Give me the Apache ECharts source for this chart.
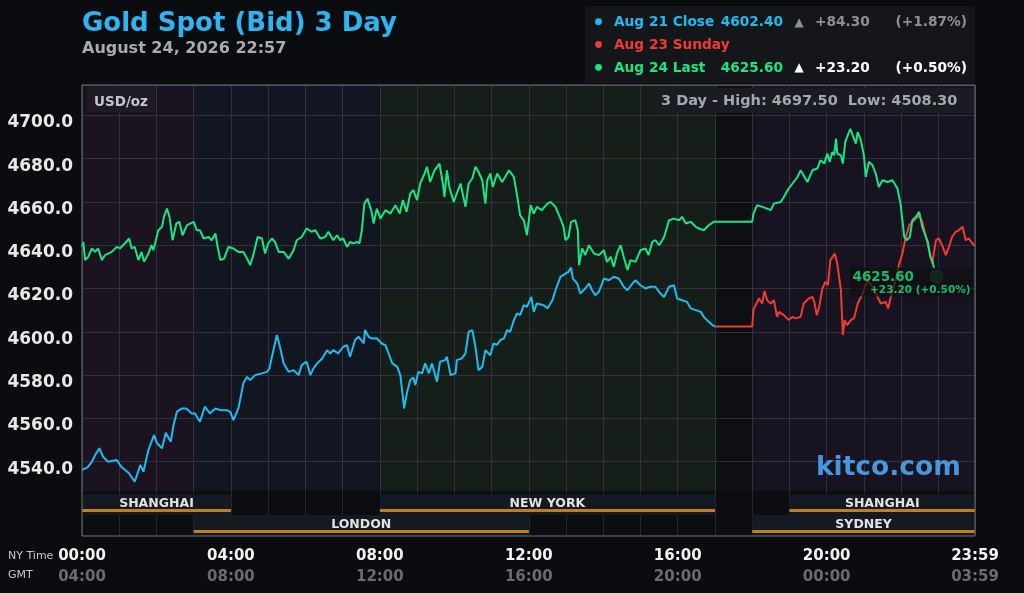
<!DOCTYPE html>
<html><head><meta charset="utf-8">
<script src="https://cdn.jsdelivr.net/npm/echarts@6/dist/echarts.min.js"></script>
<style>html,body{margin:0;padding:0;background:#0b0c0f;}#c{width:1024px;height:593px;}</style>
</head><body><div id="c"></div>
<script>
const FONT = '"DejaVu Sans", Verdana, sans-serif';

// ---- data: [minute of NY day, price] ----
const aug21Close = [[0,4536.2],[9,4537.4],[16,4540],[21,4543],[28,4546.2],[34,4542.3],[42,4540],[56,4540.8],[64,4537.4],[75,4534.9],[85,4530.8],[94,4538.5],[99,4535.4],[107,4545.4],[116,4552.3],[121,4548.5],[129,4546.2],[135,4553.4],[143,4549.2],[147,4556.1],[153,4563.1],[161,4564.6],[168,4564.6],[177,4562.3],[182,4562.3],[190,4558.5],[198,4565.4],[206,4562.3],[215,4564.6],[223,4563.8],[233,4563.8],[239,4563],[244,4559.2],[252,4564.6],[260,4576.2],[266,4579.2],[271,4577.7],[279,4580],[290,4580.8],[298,4581.5],[302,4583],[306,4588.4],[314,4598.5],[319,4593.1],[325,4585.4],[333,4581.5],[341,4582.3],[349,4580],[354,4584.6],[362,4586.2],[368,4580],[373,4583.1],[379,4585.4],[387,4587.7],[395,4591.5],[400,4590],[405,4591.5],[413,4590],[421,4593.1],[427,4593.8],[432,4588.5],[440,4596.2],[446,4597.7],[454,4594.6],[456,4600.8],[462,4597.7],[467,4596.9],[475,4597],[483,4594.6],[489,4593.8],[494,4590],[500,4585.4],[508,4583.8],[513,4580],[517,4570],[519,4564.6],[524,4572.3],[529,4577.7],[534,4578.9],[537,4575.4],[542,4581.5],[548,4580.8],[553,4585.4],[559,4580.8],[564,4585.4],[572,4576.9],[577,4586.2],[585,4586.9],[588,4588.5],[594,4580],[602,4580.8],[604,4586.9],[612,4587.7],[618,4590],[623,4600],[629,4600.8],[634,4593.1],[639,4582.3],[645,4583.8],[650,4591.5],[658,4589.2],[663,4594.6],[669,4594],[674,4596.2],[680,4597],[685,4600.8],[690,4600],[696,4605.4],[701,4608.5],[706,4607.7],[712,4612.3],[717,4611.5],[724,4616.1],[728,4609.2],[733,4613.1],[744,4612.3],[750,4610.8],[758,4614.6],[763,4619.2],[771,4625.4],[779,4626.9],[784,4627.7],[788,4629.7],[791,4624.6],[798,4622.3],[803,4617.7],[811,4620],[817,4622.3],[822,4619.2],[827,4616.9],[833,4618.5],[841,4624.6],[849,4623.8],[857,4625.4],[865,4624.6],[873,4620.8],[879,4619.2],[887,4622.3],[892,4623.8],[900,4621.5],[908,4620],[916,4620.8],[924,4620.8],[932,4617.7],[938,4616.1],[946,4620.8],[954,4621.5],[959,4615.4],[967,4614.6],[975,4613.8],[981,4610.8],[989,4610],[997,4609.2],[1002,4606.9],[1010,4604.6],[1016,4603.1],[1020,4602.4]];

const aug23Sunday = [[1020,4602.4],[1080,4602.4],[1082,4610.3],[1091,4615.4],[1096,4613.1],[1100,4618.9],[1104,4614.6],[1110,4613.1],[1115,4614.6],[1120,4606.9],[1123,4609.2],[1131,4607.7],[1139,4605.4],[1145,4606.9],[1150,4606.2],[1158,4606.9],[1163,4613.1],[1171,4615.4],[1177,4616.1],[1180,4613.8],[1184,4607.7],[1188,4611.5],[1193,4620],[1198,4623.1],[1202,4621.5],[1206,4633.1],[1213,4636.2],[1217,4631.5],[1223,4619.2],[1226,4598.5],[1229,4605.4],[1233,4603.1],[1239,4605.4],[1244,4606.2],[1250,4613.1],[1258,4617.7],[1266,4623.8],[1274,4620.8],[1282,4616.1],[1287,4613.1],[1295,4613.8],[1299,4610.8],[1304,4616.9],[1311,4623.8],[1317,4631.5],[1322,4636.2],[1327,4643.1],[1333,4649.2],[1341,4651.5],[1349,4653.8],[1354,4650.8],[1360,4643.8],[1365,4637.7],[1370,4631.5],[1376,4642.3],[1381,4643.1],[1387,4639.2],[1392,4635.4],[1397,4639.2],[1402,4643.8],[1408,4646.2],[1413,4646.9],[1419,4648.5],[1424,4642.3],[1429,4643.1],[1437,4640],[1439,4640]];

const aug24Last = [[0,4639.2],[2,4641.5],[5,4633.1],[10,4634.6],[16,4638.5],[21,4636.9],[26,4638.5],[32,4633.1],[37,4635.4],[48,4636.9],[56,4639.2],[61,4638.5],[69,4640.8],[76,4643.1],[80,4638.5],[85,4639.2],[91,4633.1],[96,4636.9],[100,4632.3],[107,4636.2],[112,4640],[115,4637.7],[123,4646.9],[129,4648.5],[132,4653.1],[137,4656.9],[141,4653.1],[146,4642.3],[152,4650],[157,4650.8],[162,4644.6],[169,4649.2],[174,4650],[180,4650.8],[185,4646.9],[190,4646.9],[196,4643.1],[204,4643.8],[209,4642.3],[215,4645.4],[218,4640],[223,4633.1],[229,4633.8],[236,4639.2],[244,4638.5],[252,4636.9],[260,4636.9],[266,4633.8],[271,4630.8],[276,4635.4],[283,4643.8],[290,4643.1],[295,4636.2],[300,4640.8],[306,4643.1],[311,4641.5],[317,4636.9],[325,4636.9],[333,4633.8],[341,4637.7],[346,4642.3],[354,4643.8],[362,4647.7],[370,4646.2],[376,4646.9],[384,4643.1],[392,4643.8],[397,4646.2],[405,4642.3],[411,4644.6],[416,4642.3],[421,4643.1],[427,4639.2],[432,4641.5],[438,4640.8],[443,4641.5],[447,4640.8],[451,4646.9],[455,4659.2],[460,4661.5],[466,4656.2],[470,4650],[475,4656.9],[481,4652.3],[489,4656.2],[497,4654.6],[505,4658.5],[512,4654.6],[517,4660.8],[523,4655.4],[529,4663.9],[534,4665.4],[540,4660.8],[545,4668.5],[552,4673.1],[556,4676.2],[561,4669.2],[568,4674.6],[576,4677.7],[582,4667.7],[584,4662.3],[588,4674.6],[592,4666.9],[599,4660],[604,4663.9],[610,4668.5],[618,4657.7],[623,4668.5],[629,4670.8],[634,4676.2],[639,4673.8],[645,4670],[650,4659.2],[653,4670],[658,4673.1],[662,4666.9],[669,4673.1],[677,4669.2],[682,4671.5],[688,4674.6],[696,4671.5],[702,4661.5],[706,4653.8],[712,4651.5],[717,4644.6],[723,4658.5],[728,4654.6],[733,4657.7],[741,4656.2],[750,4659.2],[755,4660],[763,4657.7],[771,4652.3],[776,4648.5],[779,4642.3],[784,4643.8],[788,4650.8],[795,4651.5],[799,4646.9],[801,4630.8],[806,4638.5],[811,4635.4],[817,4640],[825,4636.2],[833,4635.4],[841,4637.7],[846,4632.3],[852,4634.6],[857,4630],[862,4636.2],[868,4640],[873,4634.6],[879,4628.5],[884,4633.1],[892,4632.3],[900,4637.7],[908,4638.5],[913,4635.4],[919,4641.5],[924,4642.3],[930,4640],[938,4643.8],[946,4651.5],[954,4652.3],[962,4651.5],[967,4653.1],[973,4650],[981,4650.8],[989,4648.5],[994,4647.7],[1002,4646.9],[1010,4649.2],[1018,4650.8],[1080,4650.8],[1082,4654.6],[1088,4658.5],[1096,4657.7],[1104,4656.9],[1110,4656.2],[1115,4659.2],[1126,4660],[1131,4662.3],[1137,4665.4],[1145,4668.5],[1153,4671.5],[1158,4674.6],[1169,4669.2],[1177,4674.6],[1185,4675.4],[1190,4679.2],[1196,4677.7],[1201,4682.3],[1205,4678.5],[1209,4683.1],[1212,4681.5],[1215,4689.2],[1217,4682.3],[1223,4681.5],[1226,4677.7],[1230,4687.7],[1238,4693.8],[1241,4693.1],[1247,4686.9],[1250,4692.3],[1255,4688.5],[1260,4681.5],[1263,4671.5],[1268,4678.5],[1274,4676.9],[1279,4673.1],[1284,4666.9],[1290,4670],[1298,4669.2],[1306,4670],[1314,4666.2],[1319,4659.2],[1325,4643.8],[1329,4642.3],[1334,4643.8],[1338,4651.5],[1344,4653.1],[1349,4655.4],[1354,4648.5],[1360,4643.8],[1363,4641.5],[1367,4634.6],[1370,4633.1],[1373,4629.2]];

const lastPoint = [1377, 4625.6];
const lastLabel = '4625.60';
const lastChangeLabel = '+23.20 (+0.50%)';

// ---- tick labels ----
const tickMinutes = [0, 240, 480, 720, 960, 1200, 1439];
const nyTimeLabels = ['00:00', '04:00', '08:00', '12:00', '16:00', '20:00', '23:59'];
const gmtLabels = ['04:00', '08:00', '12:00', '16:00', '20:00', '00:00', '03:59'];

// ---- background zones ----
const zoneStart = [0, 180, 480, 1020, 1080];
const zoneEnd = [180, 480, 1020, 1080, 1439];
const zoneColor = ['#1b1320', '#111621', '#161e19', '#0e0f12', '#181321'];

// ---- trading sessions ----
const sessionNames = ['SHANGHAI', 'NEW YORK', 'SHANGHAI', 'LONDON', 'SYDNEY'];
const sessionStart = [0, 480, 1140, 180, 1080];
const sessionEnd = [240, 1020, 1439, 720, 1439];
const sessionRow = [0, 0, 0, 1, 1];

// ---- legend ----
const legendNames = ['Aug 21 Close', 'Aug 23 Sunday', 'Aug 24 Last'];
const legendColors = ['#1fbcef', '#f03c2e', '#18e682'];
const legendValues = ['4602.40', '', '4625.60'];
const legendChanges = ['+84.30', '', '+23.20'];
const legendPcts = ['(+1.87%)', '', '(+0.50%)'];
const legendChangeColors = ['#8e9096', '', '#ffffff'];
const hiLoText = '3 Day - High: 4697.50  Low: 4508.30';

const chart = echarts.init(document.getElementById('c'));

const graphics = [
  {type:'text', x:82, y:24, z:10, style:{text:'Gold Spot (Bid) 3 Day', font:'bold 26px ' + FONT, fill:'#2bb6f2', verticalAlign:'middle'}},
  {type:'text', x:82, y:49, z:10, style:{text:'August 24, 2026 22:57', font:'bold 16px ' + FONT, fill:'#a9abaf', verticalAlign:'middle'}},
  {type:'rect', z:10, shape:{x:585, y:6, width:390, height:77}, style:{fill:'#14161a'}},
  {type:'rect', z:10, shape:{x:656, y:88, width:319, height:25}, style:{fill:'#1b1b22'}},
  {type:'text', x:661, y:101, z:11, style:{text:hiLoText, font:'bold 14.5px ' + FONT, fill:'#a2a7b3', verticalAlign:'middle'}},
  {type:'rect', z:10, shape:{x:87, y:87, width:68, height:25}, style:{fill:'#201a24'}},
  {type:'text', x:94, y:102, z:11, style:{text:'USD/oz', font:'bold 13.5px ' + FONT, fill:'#c3c7cf', verticalAlign:'middle'}},
  {type:'text', x:816, y:468, z:10, style:{text:'kitco.com', font:'bold 26.5px ' + FONT, fill:'#4896dc', verticalAlign:'middle'}},
  {type:'text', x:8, y:556, z:10, style:{text:'NY Time', font:'11px ' + FONT, fill:'#c8c8c8', verticalAlign:'middle'}},
  {type:'text', x:8, y:575, z:10, style:{text:'GMT', font:'11px ' + FONT, fill:'#c8c8c8', verticalAlign:'middle'}},
  {type:'rect', z:12, shape:{x:82, y:85, width:893, height:451}, style:{fill:'none', stroke:'#6e737e', lineWidth:1}}
];
const rowY = [22.7, 45.5, 68.3];
legendNames.forEach((n, i) => {
  graphics.push({type:'circle', z:11, shape:{cx:598.5, cy:rowY[i] - 1, r:3.4}, style:{fill:legendColors[i]}});
  graphics.push({type:'text', x:614, y:rowY[i], z:11, style:{text:n, font:'bold 13.7px ' + FONT, fill:legendColors[i], verticalAlign:'middle'}});
  if (legendValues[i]) {
    graphics.push({type:'text', x:783, y:rowY[i], z:11, style:{text:legendValues[i], font:'bold 13.7px ' + FONT, fill:legendColors[i], align:'right', verticalAlign:'middle'}});
    graphics.push({type:'text', x:799, y:rowY[i], z:11, style:{text:'▲', font:'bold 12px ' + FONT, fill:legendChangeColors[i], align:'center', verticalAlign:'middle'}});
    graphics.push({type:'text', x:815, y:rowY[i], z:11, style:{text:legendChanges[i], font:'bold 13.7px ' + FONT, fill:legendChangeColors[i], verticalAlign:'middle'}});
    graphics.push({type:'text', x:967, y:rowY[i], z:11, style:{text:legendPcts[i], font:'bold 13.7px ' + FONT, fill:legendChangeColors[i], align:'right', verticalAlign:'middle'}});
  }
});

const lineSeries = (data, color) => ({
  type:'line', data, xAxisIndex:0, yAxisIndex:0, z:4, showSymbol:false, symbol:'none',
  silent:true, animation:false, lineStyle:{color, width:2}
});

const option = {
  backgroundColor:'#0b0c0f',
  animation:false,
  textStyle:{fontFamily:FONT},
  grid:[
    {left:82, top:85, width:893, height:420, show:false},
    {left:82, top:491, width:893, height:45, show:false}
  ],
  xAxis:[
    {type:'value', gridIndex:0, min:0, max:1439, interval:60, z:2,
     axisLine:{show:false}, axisTick:{show:false}, axisLabel:{show:false},
     splitLine:{show:true, lineStyle:{color:'#30333b', width:1}}},
    {type:'value', gridIndex:1, min:0, max:1439, interval:60, z:6,
     axisLine:{show:false}, axisTick:{show:false},
     splitLine:{show:true, lineStyle:{color:'#25272e', width:1}},
     axisLabel:{show:true, showMinLabel:true, showMaxLabel:true, margin:10,
       formatter:(v) => { const i = tickMinutes.indexOf(Math.round(v)); return i < 0 ? '' : '{a|' + nyTimeLabels[i] + '}\n{b|' + gmtLabels[i] + '}'; },
       rich:{a:{fontFamily:FONT, fontSize:15, fontWeight:'bold', color:'#f2f2f2', lineHeight:21},
             b:{fontFamily:FONT, fontSize:15, fontWeight:'bold', color:'#6c6c6c', lineHeight:21}}}}
  ],
  yAxis:[
    {type:'value', gridIndex:0, min:4520, max:4714, interval:20, z:2,
     axisLine:{show:false}, axisTick:{show:false},
     splitLine:{show:true, lineStyle:{color:'#30333b', width:1}},
     axisLabel:{show:true, showMinLabel:false, showMaxLabel:false, margin:9,
       verticalAlign:'top', lineHeight:15,
       fontFamily:FONT, fontSize:17, fontWeight:'bold', color:'#e8e8e8',
       formatter:(v) => (v >= 4540 && v <= 4700 && v % 20 === 0) ? v.toFixed(1) : ''}},
    {type:'value', gridIndex:1, min:-0.15, max:2, inverse:true, show:false}
  ],
  graphic:graphics,
  series:[
    {type:'line', xAxisIndex:0, yAxisIndex:0, z:1, data:[], silent:true,
     markArea:{silent:true, data: zoneStart.map((s, i) => [{xAxis:s, itemStyle:{color:zoneColor[i]}}, {xAxis:zoneEnd[i]}])}},
    lineSeries(aug21Close, '#1fbcef'),
    lineSeries(aug23Sunday, '#f03c2e'),
    lineSeries(aug24Last, '#18e682'),
    {type:'scatter', xAxisIndex:0, yAxisIndex:0, z:9, silent:true, data:[lastPoint], symbolSize:13,
     itemStyle:{color:'#1b6a40', borderColor:'rgba(40,200,110,0.25)', borderWidth:2},
     label:{show:true, position:[-78.5, -1.5], formatter:'{a|' + lastLabel + '}\n{b|' + lastChangeLabel + '}',
       backgroundColor:'rgba(13,15,17,0.85)', padding:[3,2,0,2], width:118,
       rich:{a:{fontFamily:FONT, fontSize:13.5, fontWeight:'bold', color:'#18e682', align:'left', lineHeight:14},
             b:{fontFamily:FONT, fontSize:10.5, fontWeight:'bold', color:'#18e682', align:'right', lineHeight:12}}}},
    {type:'custom', xAxisIndex:1, yAxisIndex:1, z:5, silent:true, data:[[0, 1439]],
     renderItem:(params, api) => {
       const p0 = api.coord([api.value(0), -0.15]);
       const p1 = api.coord([api.value(1), 2]);
       return {type:'rect', shape:{x:p0[0], y:p0[1], width:p1[0]-p0[0], height:p1[1]-p0[1]}, style:{fill:'#0c0d10'}};
     }},
    {type:'custom', xAxisIndex:1, yAxisIndex:1, z:7, silent:true,
     data: sessionNames.map((n, i) => [sessionStart[i], sessionEnd[i], sessionRow[i]]),
     renderItem:(params, api) => {
       const s = api.value(0), e = api.value(1), r = api.value(2);
       const p0 = api.coord([s, r]);
       const p1 = api.coord([e, r + 1]);
       const w = p1[0] - p0[0], h = p1[1] - p0[1];
       return {type:'group', children:[
         {type:'rect', shape:{x:p0[0], y:p0[1], width:w, height:h}, style:{fill:'#141922'}},
         {type:'rect', shape:{x:p0[0], y:p1[1] - 6, width:w, height:3}, style:{fill:'#c27f18'}},
         {type:'text', x:(p0[0] + p1[0]) / 2, y:p0[1] + h / 2 - 1, style:{text:sessionNames[params.dataIndex], font:'bold 12.5px ' + FONT, fill:'#e2e2e2', align:'center', verticalAlign:'middle'}}
       ]};
     }}
  ]
};
chart.setOption(option);
</script></body></html>
